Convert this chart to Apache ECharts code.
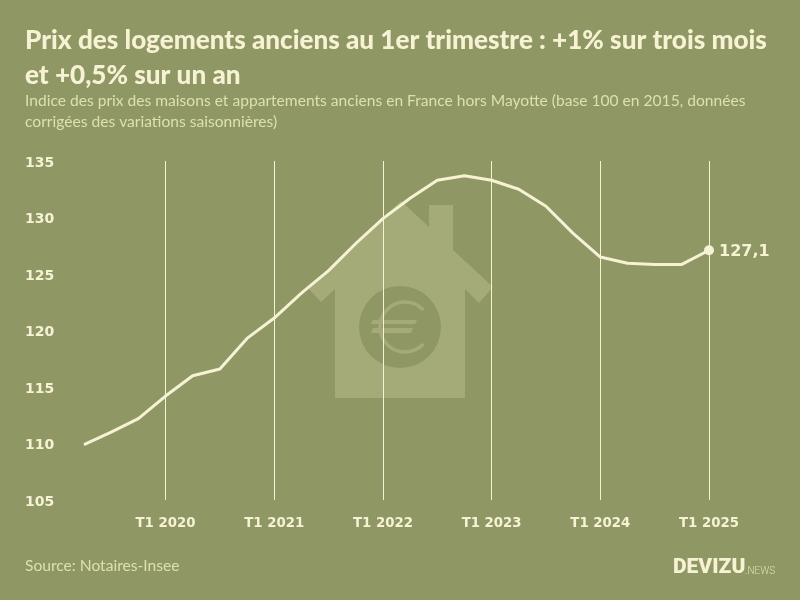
<!DOCTYPE html>
<html>
<head>
<meta charset="utf-8">
<style>
  html, body { margin: 0; padding: 0; background: #8f9865; }
  #chart { width: 800px; height: 600px; }
</style>
<script src="https://cdn.jsdelivr.net/npm/echarts@6/dist/echarts.min.js"></script>
</head>
<body>
<div id="chart"></div>
<script>
var quarters = ['T2 2019','T3 2019','T4 2019',
  'T1 2020','T2 2020','T3 2020','T4 2020',
  'T1 2021','T2 2021','T3 2021','T4 2021',
  'T1 2022','T2 2022','T3 2022','T4 2022',
  'T1 2023','T2 2023','T3 2023','T4 2023',
  'T1 2024','T2 2024','T3 2024','T4 2024',
  'T1 2025'];
var indexValues = [109.9, 111.0, 112.2,
  114.2, 116.0, 116.6, 119.3,
  121.1, 123.3, 125.3, 127.7,
  129.9, 131.7, 133.3, 133.7,
  133.3, 132.5, 131.0, 128.6,
  126.5, 125.95, 125.85, 125.85,
  127.1];
var titleLines = 'Prix des logements anciens au 1er trimestre : +1% sur trois mois\net +0,5% sur un an';
var subtitleLines = 'Indice des prix des maisons et appartements anciens en France hors Mayotte (base 100 en 2015, données\ncorrigées des variations saisonnières)';
var sourceText = 'Source: Notaires-Insee';

var bg = '#8f9865';
var cream = '#f7f2d3';
var soft = '#dfdfb6';
var houseColor = '#a4ab78';
var textFont = 'Lato';
var numFont = '"DejaVu Sans"';

var isFirstQuarter = function(index, name) {
  return name.indexOf('T1') === 0;
};

var chart = echarts.init(document.getElementById('chart'));
var lastIndex = indexValues.length - 1;

var option = {
  backgroundColor: bg,
  animation: false,
  title: [
    { text: titleLines, left: 25, top: 23, padding: 0,
      textStyle: { color: cream, fontFamily: textFont, fontWeight: 900, fontSize: 26.1, lineHeight: 35 } },
    { text: subtitleLines, left: 25, top: 91, padding: 0,
      textStyle: { color: soft, fontFamily: textFont, fontWeight: 400, fontSize: 15.6, lineHeight: 20.5 } },
    { text: sourceText, left: 25, top: 558, padding: 0,
      textStyle: { color: soft, fontFamily: textFont, fontWeight: 400, fontSize: 15.6 } }
  ],
  grid: { left: 84, right: 91, top: 161, bottom: 100 },
  xAxis: {
    type: 'category',
    boundaryGap: false,
    data: quarters,
    axisLine: { show: false },
    axisTick: { show: false },
    axisLabel: { interval: isFirstQuarter, color: cream, fontFamily: numFont, fontWeight: 700, fontSize: 13.3, margin: 17 },
    splitLine: { show: true, interval: isFirstQuarter, lineStyle: { color: cream, width: 1 } }
  },
  yAxis: {
    type: 'value',
    min: 105,
    max: 135,
    interval: 5,
    axisLine: { show: false },
    axisTick: { show: false },
    splitLine: { show: false },
    axisLabel: { color: cream, fontFamily: numFont, fontWeight: 700, fontSize: 14, align: 'left', margin: 59, verticalAlign: 'top', lineHeight: 4 }
  },
  series: [{
    type: 'line',
    data: indexValues,
    z: 5,
    smooth: false,
    showAllSymbol: true,
    symbol: function(value, params) {
      return params.dataIndex === lastIndex ? 'circle' : 'none';
    },
    symbolSize: 10,
    itemStyle: { color: cream },
    lineStyle: { color: cream, width: 3 },
    label: {
      show: true,
      position: 'right',
      distance: 5,
      offset: [0, 2],
      color: cream,
      fontFamily: numFont,
      fontWeight: 700,
      fontSize: 16,
      formatter: function(p) {
        return p.dataIndex === lastIndex ? String(p.value).replace('.', ',') : '';
      }
    }
  }],
  graphic: [
    { type: 'polygon', z: -10, silent: true,
      shape: { points: [[401,201],[429,227],[429,205],[453,205],[453,250],[493,287],[479,303],[465,289],[465,398],[335,398],[335,289],[321,302],[308,288]] },
      style: { fill: houseColor } },
    { type: 'circle', z: -9, silent: true,
      shape: { cx: 400, cy: 327, r: 41 }, style: { fill: bg } },
    { type: 'arc', z: -8, silent: true,
      shape: { cx: 405, cy: 327, r: 25, startAngle: 0.75, endAngle: -0.75, clockwise: true },
      style: { stroke: houseColor, lineWidth: 3.5, fill: null } },
    { type: 'polygon', z: -8, silent: true,
      shape: { points: [[373,320],[417,320],[415,324],[371,324]] }, style: { fill: houseColor } },
    { type: 'polygon', z: -8, silent: true,
      shape: { points: [[373,328],[413,328],[411,333],[371,333]] }, style: { fill: houseColor } },
    { type: 'text', left: 673, top: 557,
      style: { text: 'DEVIZU', fill: cream, font: '900 21px Roboto' } },
    { type: 'text', left: 745, top: 566,
      style: { text: '.NEWS', fill: soft, font: '300 10px Roboto' } }
  ]
};
chart.setOption(option);
</script>
</body>
</html>
